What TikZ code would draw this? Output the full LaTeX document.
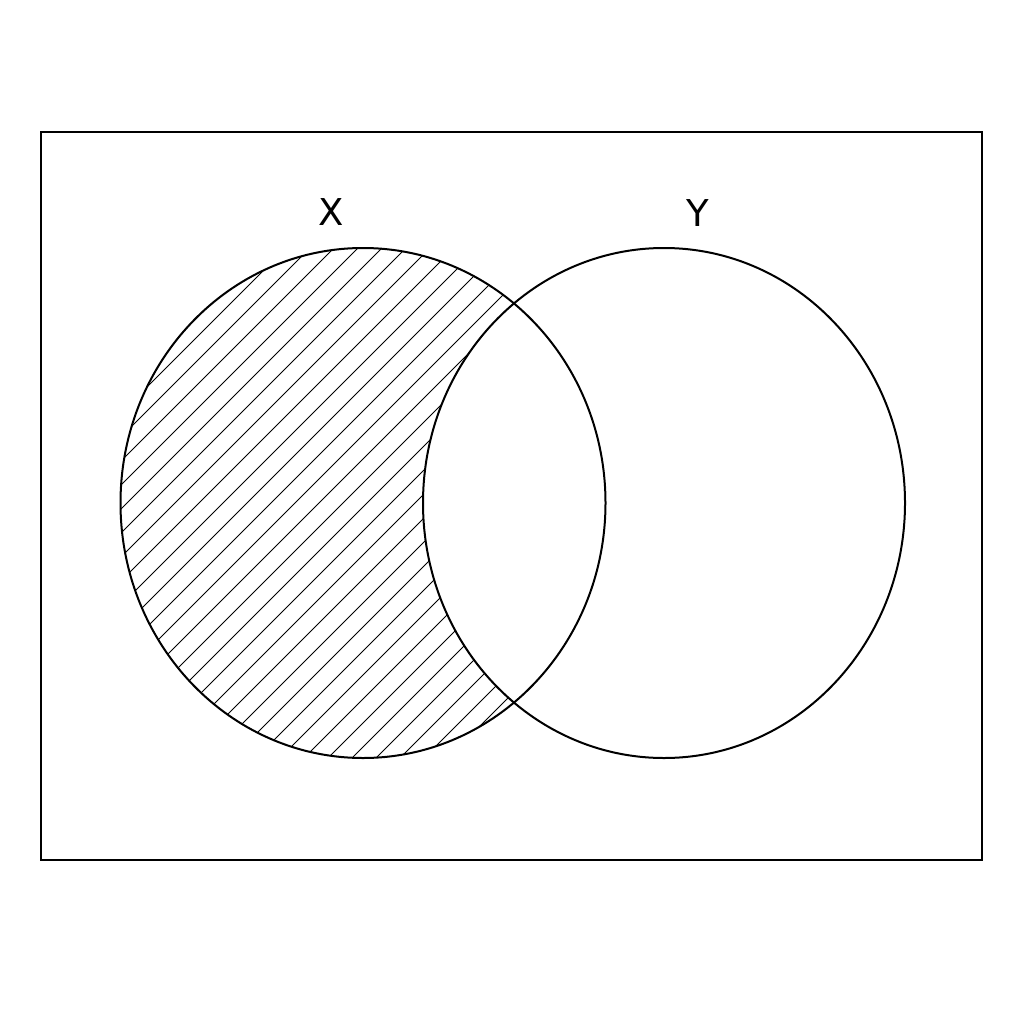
\documentclass[tikz,border=0pt]{standalone}
\usepackage{fontspec}
\setmainfont{DejaVu Sans}
\begin{document}
\begin{tikzpicture}[x=1pt,y=-1pt,
  outline/.style={draw=black,line width=2pt},
  hatchline/.style={draw=black,line width=0.9pt},
  setlabel/.style={font=\fontsize{37}{40}\selectfont,inner sep=0pt,anchor=center}]
\useasboundingbox (0,0) rectangle (1024,1024);
\fill[white] (0,0) rectangle (1024,1024);
% hatching of X minus Y
\begin{scope}
  \clip (363,503) ellipse [x radius=242.5,y radius=255];
  \foreach \k in {-6,...,26}{
    \pgfmathsetmacro{\c}{630+24*\k}
    \draw[hatchline] (\c-100,100) -- (\c-850,850);
  }
\end{scope}
\fill[white] (664,503) ellipse [x radius=241,y radius=255];
% universe
\draw[outline] (41,132) rectangle (982,860);
% sets
\draw[outline] (363,503) ellipse [x radius=242.5,y radius=255];
\draw[outline] (664,503) ellipse [x radius=241,y radius=255];
\node[setlabel] (lx) at (331,212) {X};
\node[setlabel] (ly) at (697.5,213) {Y};
\end{tikzpicture}
\end{document}
